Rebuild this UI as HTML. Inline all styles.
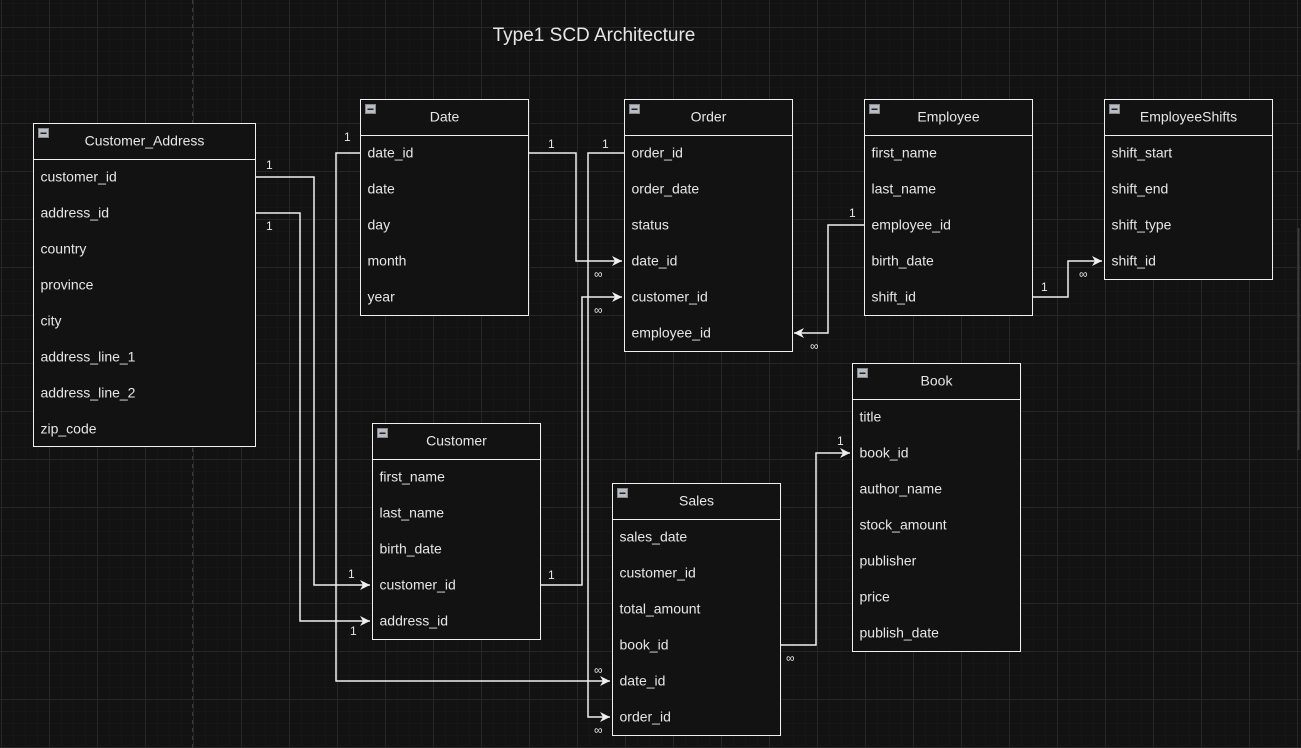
<!DOCTYPE html>
<html><head><meta charset="utf-8"><style>
html,body{margin:0;padding:0;background:#121212;}
svg{display:block}
text{font-family:"Liberation Sans",Arial,sans-serif;fill:#e6e6e6;font-size:14px}
.s{font-size:12px}
</style></head><body>
<svg width="1301" height="748" viewBox="0 0 1301 748" xmlns="http://www.w3.org/2000/svg">
<defs>
<pattern id="mn" width="12" height="12" patternUnits="userSpaceOnUse" x="1" y="3"><path d="M0 0H12M0 0V12" stroke="#1a1a1a" stroke-width="1" fill="none"/></pattern>
<pattern id="mj" width="48" height="48" patternUnits="userSpaceOnUse" x="1" y="27"><path d="M0 0.5H48M0.5 0V48" stroke="#262626" stroke-width="1" fill="none"/></pattern>
<marker id="a" markerWidth="12" markerHeight="10" refX="10" refY="5" orient="auto" markerUnits="userSpaceOnUse"><path d="M0 0L10 5L0 10L3 5Z" fill="#f0f0f0"/></marker>
</defs>
<rect width="1301" height="748" fill="#121212"/>
<rect width="1301" height="748" fill="url(#mn)"/>
<rect width="1301" height="748" fill="url(#mj)"/>
<line x1="192.5" y1="0" x2="192.5" y2="748" stroke="#3a3a3a" stroke-dasharray="4 4"/>
<text x="594" y="41" text-anchor="middle" style="font-size:19px" fill="#dcdcdc">Type1 SCD Architecture</text>

<g fill="none" stroke="#f0f0f0" stroke-width="1.5">
<polyline points="360,153 336,153 336,681 610,681" marker-end="url(#a)"/>
<polyline points="528,153 576,153 576,261 622,261" marker-end="url(#a)"/>
<polyline points="624,153 588,153 588,717 610,717" marker-end="url(#a)"/>
<polyline points="540,585 582,585 582,297 622,297" marker-end="url(#a)"/>
<polyline points="256,177 314,177 314,585 370,585" marker-end="url(#a)"/>
<polyline points="256,213 300,213 300,621 370,621" marker-end="url(#a)"/>
<polyline points="864,225 828,225 828,333 794,333" marker-end="url(#a)"/>
<polyline points="1032,297 1068,297 1068,261 1102,261" marker-end="url(#a)"/>
<polyline points="780,645 816,645 816,453 850,453" marker-end="url(#a)"/>
</g>
<g>
<text x="344" y="141" class="s">1</text>
<text x="548" y="148" class="s">1</text>
<text x="602" y="148" class="s">1</text>
<text x="594" y="278" class="s">∞</text>
<text x="594" y="314" class="s">∞</text>
<text x="548" y="579" class="s">1</text>
<text x="266" y="169" class="s">1</text>
<text x="266" y="230" class="s">1</text>
<text x="348" y="578" class="s">1</text>
<text x="350" y="635" class="s">1</text>
<text x="849" y="217" class="s">1</text>
<text x="810" y="350" class="s">∞</text>
<text x="1041" y="291" class="s">1</text>
<text x="1079" y="278" class="s">∞</text>
<text x="837" y="445" class="s">1</text>
<text x="786" y="662" class="s">∞</text>
<text x="594" y="674" class="s">∞</text>
<text x="594" y="734" class="s">∞</text>
</g>

<g transform="translate(33.5,123.5)">
<rect width="222" height="323" fill="#121212" stroke="#f0f0f0"/><line x1="0" y1="36" x2="222" y2="36" stroke="#f0f0f0"/>
<rect x="5" y="5" width="10" height="9" fill="#b8bcc4" stroke="#888"/><rect x="7" y="9" width="6" height="1.5" fill="#222"/>
<text x="111" y="22" text-anchor="middle">Customer_Address</text>
<text x="7" y="58">customer_id</text><text x="7" y="94">address_id</text><text x="7" y="130">country</text><text x="7" y="166">province</text><text x="7" y="202">city</text><text x="7" y="238">address_line_1</text><text x="7" y="274">address_line_2</text><text x="7" y="310">zip_code</text>
</g>
<g transform="translate(360.5,99.5)">
<rect width="168" height="216" fill="#121212" stroke="#f0f0f0"/><line x1="0" y1="36" x2="168" y2="36" stroke="#f0f0f0"/>
<rect x="5" y="5" width="10" height="9" fill="#b8bcc4" stroke="#888"/><rect x="7" y="9" width="6" height="1.5" fill="#222"/>
<text x="84" y="22" text-anchor="middle">Date</text>
<text x="7" y="58">date_id</text><text x="7" y="94">date</text><text x="7" y="130">day</text><text x="7" y="166">month</text><text x="7" y="202">year</text>
</g>
<g transform="translate(624.5,99.5)">
<rect width="168" height="252" fill="#121212" stroke="#f0f0f0"/><line x1="0" y1="36" x2="168" y2="36" stroke="#f0f0f0"/>
<rect x="5" y="5" width="10" height="9" fill="#b8bcc4" stroke="#888"/><rect x="7" y="9" width="6" height="1.5" fill="#222"/>
<text x="84" y="22" text-anchor="middle">Order</text>
<text x="7" y="58">order_id</text><text x="7" y="94">order_date</text><text x="7" y="130">status</text><text x="7" y="166">date_id</text><text x="7" y="202">customer_id</text><text x="7" y="238">employee_id</text>
</g>
<g transform="translate(864.5,99.5)">
<rect width="168" height="216" fill="#121212" stroke="#f0f0f0"/><line x1="0" y1="36" x2="168" y2="36" stroke="#f0f0f0"/>
<rect x="5" y="5" width="10" height="9" fill="#b8bcc4" stroke="#888"/><rect x="7" y="9" width="6" height="1.5" fill="#222"/>
<text x="84" y="22" text-anchor="middle">Employee</text>
<text x="7" y="58">first_name</text><text x="7" y="94">last_name</text><text x="7" y="130">employee_id</text><text x="7" y="166">birth_date</text><text x="7" y="202">shift_id</text>
</g>
<g transform="translate(1104.5,99.5)">
<rect width="168" height="180" fill="#121212" stroke="#f0f0f0"/><line x1="0" y1="36" x2="168" y2="36" stroke="#f0f0f0"/>
<rect x="5" y="5" width="10" height="9" fill="#b8bcc4" stroke="#888"/><rect x="7" y="9" width="6" height="1.5" fill="#222"/>
<text x="84" y="22" text-anchor="middle">EmployeeShifts</text>
<text x="7" y="58">shift_start</text><text x="7" y="94">shift_end</text><text x="7" y="130">shift_type</text><text x="7" y="166">shift_id</text>
</g>
<g transform="translate(852.5,363.5)">
<rect width="168" height="288" fill="#121212" stroke="#f0f0f0"/><line x1="0" y1="36" x2="168" y2="36" stroke="#f0f0f0"/>
<rect x="5" y="5" width="10" height="9" fill="#b8bcc4" stroke="#888"/><rect x="7" y="9" width="6" height="1.5" fill="#222"/>
<text x="84" y="22" text-anchor="middle">Book</text>
<text x="7" y="58">title</text><text x="7" y="94">book_id</text><text x="7" y="130">author_name</text><text x="7" y="166">stock_amount</text><text x="7" y="202">publisher</text><text x="7" y="238">price</text><text x="7" y="274">publish_date</text>
</g>
<g transform="translate(372.5,423.5)">
<rect width="168" height="216" fill="#121212" stroke="#f0f0f0"/><line x1="0" y1="36" x2="168" y2="36" stroke="#f0f0f0"/>
<rect x="5" y="5" width="10" height="9" fill="#b8bcc4" stroke="#888"/><rect x="7" y="9" width="6" height="1.5" fill="#222"/>
<text x="84" y="22" text-anchor="middle">Customer</text>
<text x="7" y="58">first_name</text><text x="7" y="94">last_name</text><text x="7" y="130">birth_date</text><text x="7" y="166">customer_id</text><text x="7" y="202">address_id</text>
</g>
<g transform="translate(612.5,483.5)">
<rect width="168" height="252" fill="#121212" stroke="#f0f0f0"/><line x1="0" y1="36" x2="168" y2="36" stroke="#f0f0f0"/>
<rect x="5" y="5" width="10" height="9" fill="#b8bcc4" stroke="#888"/><rect x="7" y="9" width="6" height="1.5" fill="#222"/>
<text x="84" y="22" text-anchor="middle">Sales</text>
<text x="7" y="58">sales_date</text><text x="7" y="94">customer_id</text><text x="7" y="130">total_amount</text><text x="7" y="166">book_id</text><text x="7" y="202">date_id</text><text x="7" y="238">order_id</text>
</g>
<line x1="1298.5" y1="228" x2="1298.5" y2="450" stroke="#3a3a3a" stroke-width="2"/>
</svg>
</body></html>
